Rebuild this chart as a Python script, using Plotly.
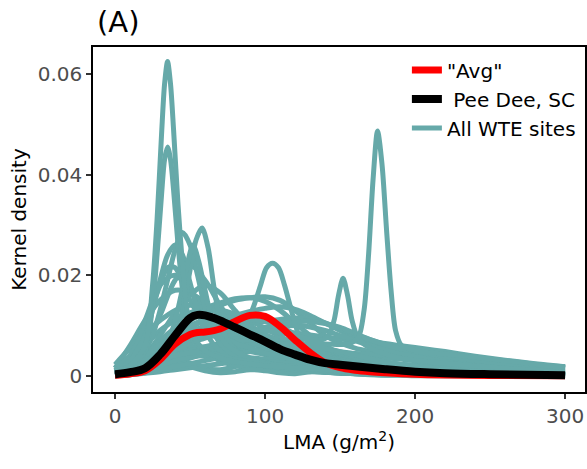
import plotly.graph_objects as go

# ---------------- data (density values in units of 1e-3) ----------------
LMA_GRID = [0, 10, 20, 30, 40, 50, 60, 70, 80, 90, 100, 110, 120, 130, 140,
            150, 160, 170, 180, 190, 200, 220, 240, 260, 280, 300]

# broad site curves on LMA_GRID
site_b01 = [1, 3, 6, 9, 11, 12.5, 13.5, 14.5, 15.3, 15.5, 14.8, 13, 10.5, 8, 6, 4.5, 3.5, 2.8, 2.2, 1.8, 1.5, 1.1, 0.8, 0.6, 0.4, 0.3]
site_b02 = [0.5, 2, 4, 6.5, 9, 11, 12.5, 14, 15, 15.5, 15.7, 15, 13, 10.5, 8, 6.5, 5.5, 4.8, 4.2, 3.8, 3.4, 2.8, 2.3, 1.9, 1.6, 1.4]
site_b03 = [0.5, 1.5, 3, 5, 7, 8.5, 10, 11, 12, 12.8, 13.4, 13.7, 13.2, 12, 10.5, 9, 7.5, 6.5, 5.6, 5, 4.5, 3.8, 3.2, 2.6, 2.1, 1.7]
site_b04 = [0.3, 1, 2, 3.5, 5, 6.5, 7.5, 8.5, 9.5, 10.3, 10.8, 11.2, 11.5, 11.3, 10.5, 9.3, 8.2, 7.2, 6.3, 5.5, 5, 4.2, 3.5, 2.8, 2.2, 1.8]
site_b05 = [1.5, 6, 11, 15, 17, 16.5, 14.5, 12, 10, 8.5, 7.5, 6.5, 5.5, 4.5, 3.8, 3.2, 2.7, 2.3, 2, 1.8, 1.6, 1.3, 1, 0.8, 0.6, 0.5]
site_b06 = [1, 4, 11, 18, 20, 17, 13, 9.5, 7, 5.5, 4.5, 3.8, 3.2, 2.8, 2.4, 2, 1.7, 1.5, 1.3, 1.1, 1, 0.8, 0.6, 0.5, 0.4, 0.3]
site_b07 = [0.5, 2, 6, 12, 19, 22, 19, 14, 10, 7, 5, 4, 3.2, 2.6, 2.2, 1.9, 1.6, 1.4, 1.2, 1, 0.9, 0.7, 0.5, 0.4, 0.3, 0.2]
site_b08 = [0.3, 1.5, 4, 8, 12.5, 16, 18, 16.5, 13, 10, 8, 6.5, 5, 4, 3.2, 2.6, 2.1, 1.7, 1.4, 1.2, 1, 0.8, 0.6, 0.4, 0.3, 0.2]
site_b09 = [2.2, 5.5, 8.5, 11, 13, 14, 13.5, 12.5, 11, 9.5, 8.2, 7, 6, 5, 4.3, 3.8, 3.3, 2.9, 2.6, 2.3, 2.1, 1.7, 1.4, 1.1, 0.9, 0.7]
site_b10 = [0.5, 2, 4.5, 6.5, 7.5, 8, 8, 7.8, 7.5, 7.2, 7, 6.7, 6.3, 5.8, 5.3, 4.8, 4.4, 4, 3.6, 3.3, 3, 2.5, 2.1, 1.7, 1.4, 1.1]
site_b11 = [0.2, 1, 2.5, 4, 5, 5.5, 5.7, 5.5, 5.3, 5.1, 5, 4.9, 4.8, 4.7, 4.6, 4.5, 4.4, 4.3, 4.1, 3.9, 3.7, 3.3, 2.9, 2.5, 2.1, 1.7]
site_b12 = [0.3, 1.5, 3.5, 5.5, 7, 8, 8.5, 8.8, 9, 9, 9, 8.8, 8.5, 8.1, 7.7, 7.3, 7, 6.7, 6.4, 6, 5.6, 4.8, 3.9, 3.1, 2.4, 1.8]
site_b13 = [0, 0.5, 1.5, 3, 3.5, 2.5, 1.5, 1.2, 1.8, 2.5, 2.8, 2.2, 1.5, 1, 0.7, 0.5, 0.4, 0.3, 0.2, 0.2, 0.1, 0.1, 0.1, 0, 0, 0]
site_b14 = [0.1, 0.8, 2.5, 5, 6.5, 6, 4.5, 3, 2, 1.5, 1.2, 1, 0.9, 0.8, 0.7, 0.6, 0.5, 0.4, 0.3, 0.3, 0.2, 0.2, 0.1, 0.1, 0.1, 0]
site_b15 = [0.2, 1, 2.5, 4, 5, 5, 4.5, 4, 3.8, 3.6, 3.3, 3, 2.7, 2.4, 2.1, 1.9, 1.7, 1.5, 1.4, 1.3, 1.2, 1, 0.9, 0.8, 0.7, 0.6]
site_b16 = [1, 2, 3.5, 5.5, 8, 10, 11, 10.5, 9.5, 8.5, 7.5, 6.5, 5.5, 4.5, 3.8, 3.2, 2.8, 2.5, 2.3, 2.1, 2, 1.8, 1.6, 1.5, 1.3, 1.2]
site_b17 = [0.2, 1, 2.5, 4.5, 7, 9.5, 11, 12, 11.5, 10, 8, 6, 4.5, 3.3, 2.5, 2, 1.6, 1.3, 1.1, 0.9, 0.8, 0.6, 0.5, 0.4, 0.3, 0.2]
site_b18 = [0.1, 0.5, 1.2, 2, 3, 4, 5, 6, 7, 8, 9, 9.7, 10, 9.7, 9, 8, 7, 6, 5.2, 4.5, 4, 3.2, 2.6, 2.1, 1.7, 1.4]
site_b19 = [0.1, 0.4, 1, 1.8, 2.8, 3.8, 5, 6.2, 7.4, 8.6, 9.6, 10.3, 10.7, 10.8, 10.4, 9.6, 8.4, 7.2, 6.2, 5.4, 4.8, 3.8, 3, 2.4, 1.9, 1.5]
site_b20 = [0.1, 0.5, 1.2, 2.2, 3.3, 4.3, 5.2, 6, 6.6, 7, 7, 6.6, 5.8, 4.8, 3.8, 3, 2.4, 1.9, 1.5, 1.2, 1, 0.7, 0.5, 0.3, 0.2, 0.1]
site_b21 = [0, 0.3, 0.8, 1.5, 2.5, 3.5, 4.3, 4.8, 5, 4.8, 4.2, 3.5, 2.7, 2, 1.5, 1.1, 0.8, 0.6, 0.5, 0.4, 0.3, 0.2, 0.1, 0.1, 0, 0]
site_b22 = [0, 0.2, 0.5, 0.8, 1.2, 1.6, 2, 2.4, 2.8, 3.1, 3.3, 3.5, 3.5, 3.3, 3, 2.6, 2.2, 1.9, 1.6, 1.4, 1.2, 0.9, 0.7, 0.5, 0.4, 0.3]
site_b23 = [0, 0.2, 0.8, 1.8, 2.5, 1.8, 1, 0.6, 0.8, 1.2, 1.0, 0.6, 0.4, 0.8, 1.1, 0.8, 0.4, 0.2, 0.1, 0.1, 0, 0, 0, 0, 0, 0]
site_b24 = [0.3, 1.2, 3, 5.5, 7.5, 9, 9.5, 9.3, 8.5, 7.5, 6.3, 5.2, 4.2, 3.4, 2.8, 2.3, 1.9, 1.6, 1.3, 1.1, 1, 0.8, 0.6, 0.5, 0.4, 0.3]
site_b25 = [0.5, 1.5, 4, 7, 9.5, 11.5, 12.7, 13, 12.3, 11, 9.4, 7.8, 6.3, 5, 4, 3.2, 2.6, 2.1, 1.7, 1.4, 1.2, 0.9, 0.7, 0.5, 0.4, 0.3]
site_b26 = [1, 2.5, 4.5, 6, 5.5, 4.5, 3.8, 3.4, 3.2, 3, 2.8, 2.6, 2.4, 2.2, 2, 1.8, 1.6, 1.5, 1.4, 1.3, 1.2, 1, 0.8, 0.7, 0.6, 0.5]
site_b27 = [0, 0.3, 1, 2, 3, 3.7, 4, 3.8, 3.3, 2.7, 2.1, 1.6, 1.2, 0.9, 0.7, 0.5, 0.4, 0.3, 0.2, 0.2, 0.1, 0.1, 0, 0, 0, 0]
site_b28 = [0.2, 0.8, 2, 3.5, 5, 6.5, 8, 9.3, 10.3, 11, 10.8, 9.8, 8.3, 6.8, 5.5, 4.5, 3.7, 3.1, 2.6, 2.2, 1.9, 1.5, 1.2, 0.9, 0.7, 0.5]
site_b29 = [0, 0.2, 0.6, 1.2, 1.8, 2.4, 3, 3.6, 4.2, 4.8, 5.3, 5.7, 5.9, 5.8, 5.4, 4.8, 4.1, 3.4, 2.8, 2.3, 1.9, 1.3, 0.9, 0.6, 0.4, 0.3]
site_b30 = [0.1, 0.6, 1.6, 2.8, 4, 5, 5.8, 6.4, 6.8, 6.9, 6.7, 6.2, 5.5, 4.6, 3.7, 2.9, 2.3, 1.8, 1.4, 1.1, 0.9, 0.6, 0.4, 0.3, 0.2, 0.1]

BROAD_SITES = [site_b01, site_b02, site_b03, site_b04, site_b05, site_b06, site_b07,
               site_b08, site_b09, site_b10, site_b11, site_b12, site_b13, site_b14,
               site_b15, site_b16, site_b17, site_b18, site_b19, site_b20, site_b21,
               site_b22, site_b23, site_b24, site_b25, site_b26, site_b27, site_b28,
               site_b29, site_b30]

# narrow-peak site curves, each with its own LMA sample points
spike_a_x = [0, 10, 20, 25, 28, 31, 33, 35, 37, 39, 42, 45, 48, 52, 60, 70, 80, 100, 130, 160, 200, 250, 300]
spike_a_y = [1.0, 2.0, 6, 18, 31, 48, 58, 62.5, 58, 49, 34, 22, 13, 8, 5, 3.5, 2.8, 2.0, 1.4, 1.0, 0.6, 0.3, 0.2]
spike_b_x = [0, 10, 20, 25, 28, 31, 33, 35, 37, 39, 42, 45, 48, 52, 60, 70, 80, 100, 130, 160, 200, 250, 300]
spike_b_y = [0.5, 1.5, 5, 14, 24, 36, 43, 45.5, 43, 37, 26, 17, 11, 7, 5, 4, 3.2, 2.4, 1.6, 1.1, 0.7, 0.4, 0.2]
spike_c_x = [0, 20, 40, 60, 80, 100, 120, 140, 155, 162, 166, 169, 172, 175, 178, 181, 184, 187, 191, 200, 230, 260, 300]
spike_c_y = [0.5, 2, 4, 5, 6, 6.2, 6.3, 6.3, 6.3, 7.5, 13, 24, 39, 48.7, 42, 29, 17, 9, 6, 5, 4, 3, 1.6]
spike_d_x = [0, 20, 40, 60, 80, 100, 120, 135, 142, 146, 149, 152, 155, 158, 162, 170, 190, 220, 260, 300]
spike_d_y = [1, 3, 6, 8, 9, 9, 8, 7, 7.8, 11, 16, 19.4, 16, 11, 7.5, 5.5, 3.5, 2.5, 1.5, 0.8]
spike_e_x = [0, 20, 40, 60, 75, 85, 92, 97, 101, 105, 109, 113, 118, 122, 128, 140, 160, 200, 250, 300]
spike_e_y = [1, 4, 8, 8.5, 8, 9, 13.5, 18, 21.5, 22.4, 21.5, 18, 12.5, 8.5, 5, 2.5, 1.2, 0.5, 0.2, 0.1]

peak_grid = [0, 10, 20, 25, 30, 35, 40, 45, 50, 55, 60, 65, 70, 80, 90, 100, 120, 140, 160, 200, 250, 300]
peak_n1_y = [0.5, 2, 5, 8, 13, 19, 25, 28.5, 26, 20, 13.5, 9, 6.5, 4, 3, 2.3, 1.5, 1, 0.7, 0.4, 0.2, 0.1]
peak_n3_y = [1, 3, 8, 13, 19, 24, 26, 24, 18.5, 13, 9, 6.5, 5, 3.5, 2.5, 2, 1.2, 0.8, 0.5, 0.3, 0.1, 0.1]
peak_n5_y = [1.5, 4, 10, 14, 18, 21.5, 21.5, 18.5, 15, 12.5, 10.5, 9, 8, 6.5, 5.5, 4.5, 3.2, 2.3, 1.7, 1, 0.5, 0.3]
peak_n2_x = [0, 20, 30, 40, 45, 50, 54, 58, 62, 66, 70, 75, 85, 100, 150, 200, 300]
peak_n2_y = [0.5, 2, 4, 8, 13, 21, 27, 29.4, 25.5, 17.5, 11, 7, 4, 2.5, 1, 0.5, 0.1]
peak_n4_x = [0, 20, 30, 38, 44, 48, 52, 56, 60, 66, 75, 90, 110, 150, 200, 300]
peak_n4_y = [0.3, 2, 5, 9, 16, 22, 26, 22.5, 17, 10, 6, 3.5, 2, 1, 0.5, 0.2]

NARROW_SITES = [(spike_e_x, spike_e_y), (spike_d_x, spike_d_y), (spike_c_x, spike_c_y),
                (peak_grid, peak_n5_y), (peak_grid, peak_n3_y), (peak_grid, peak_n1_y),
                (peak_n2_x, peak_n2_y), (peak_n4_x, peak_n4_y),
                (spike_b_x, spike_b_y), (spike_a_x, spike_a_y)]

# "Avg" and Pee Dee, SC curves
curve_x = [0, 10, 20, 30, 40, 50, 55, 60, 70, 80, 90, 100, 110, 120, 130, 140,
           150, 160, 170, 180, 200, 220, 250, 300]
avg_y = [0.1, 0.4, 1.0, 3.2, 6.3, 8.2, 8.6, 8.7, 9.3, 10.8, 12.0, 11.8, 9.8, 7.1,
         4.6, 2.6, 1.6, 1.1, 0.8, 0.6, 0.3, 0.15, 0.05, 0.0]
peedee_y = [0.3, 0.7, 1.5, 4.2, 8.0, 11.5, 12.1, 12.0, 11.0, 9.6, 8.2, 6.8, 5.3,
            4.2, 3.2, 2.5, 2.2, 1.9, 1.6, 1.3, 0.8, 0.5, 0.3, 0.1]

SCALE = 1e-3
TEAL = "#66a9a9"
FONT = "DejaVu Sans"

fig = go.Figure()

first = True
for ys in BROAD_SITES:
    fig.add_trace(go.Scatter(
        x=LMA_GRID, y=[v * SCALE for v in ys], mode="lines",
        line=dict(color=TEAL, width=5, shape="spline", smoothing=1.0),
        name="All WTE sites", legendgroup="wte", showlegend=first,
        legendrank=3, hoverinfo="skip"))
    first = False

for xs, ys in NARROW_SITES:
    fig.add_trace(go.Scatter(
        x=xs, y=[v * SCALE for v in ys], mode="lines",
        line=dict(color=TEAL, width=5, shape="spline", smoothing=0.8),
        name="All WTE sites", legendgroup="wte", showlegend=False,
        hoverinfo="skip"))

fig.add_trace(go.Scatter(
    x=curve_x, y=[v * SCALE for v in avg_y], mode="lines",
    line=dict(color="#ff0000", width=7, shape="spline"),
    name='"Avg"', legendrank=1))
fig.add_trace(go.Scatter(
    x=curve_x, y=[v * SCALE for v in peedee_y], mode="lines",
    line=dict(color="#000000", width=8, shape="spline"),
    name=" Pee Dee, SC", legendrank=2))

fig.update_layout(
    width=587, height=469,
    margin=dict(l=93, r=2, t=47, b=77, autoexpand=False),
    paper_bgcolor="white", plot_bgcolor="white",
    font=dict(family=FONT, color="black"),
    title=dict(text="(A)", x=97 / 587, xanchor="left", xref="container",
               y=1 - 22 / 469, yanchor="middle", yref="container",
               font=dict(size=29, color="black", family=FONT)),
    showlegend=True,
    legend=dict(x=0.638, xanchor="left", y=0.99, yanchor="top",
                bgcolor="rgba(0,0,0,0)", font=dict(size=20, color="black", family=FONT),
                tracegroupgap=0),
)

fig.update_xaxes(
    range=[-14.7, 313.3], tickvals=[0, 100, 200, 300],
    ticks="outside", ticklen=5, tickwidth=1.5, tickcolor="#333333",
    showline=True, linecolor="black", linewidth=1.5, mirror=True,
    showgrid=False, zeroline=False,
    tickfont=dict(size=20, color="#4d4d4d", family=FONT),
    title=dict(text="LMA (g/m<sup>2</sup>)", standoff=8,
               font=dict(size=20, color="black", family=FONT)))

fig.update_yaxes(
    range=[-0.00324, 0.06541], tickvals=[0, 0.02, 0.04, 0.06],
    ticktext=["0", "0.02", "0.04", "0.06"],
    ticks="outside", ticklen=5, tickwidth=1.5, tickcolor="#333333",
    showline=True, linecolor="black", linewidth=1.5, mirror=True,
    showgrid=False, zeroline=False,
    tickfont=dict(size=20, color="#4d4d4d", family=FONT),
    title=dict(text="Kernel density", standoff=6,
               font=dict(size=20, color="black", family=FONT)))

fig.write_html("out.html")
